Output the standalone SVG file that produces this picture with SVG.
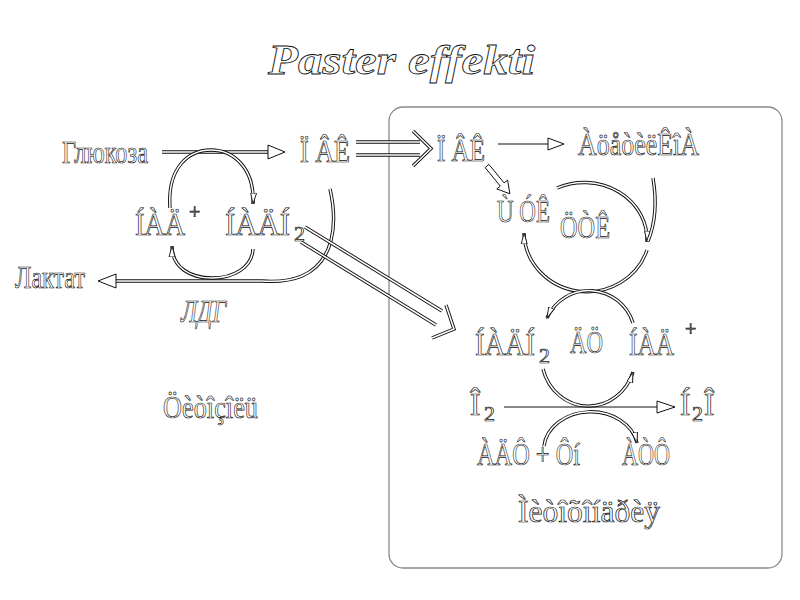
<svg xmlns="http://www.w3.org/2000/svg" width="800" height="600" viewBox="0 0 800 600">
<style>
text{font-family:"Liberation Serif","Times New Roman",serif;fill:#fff;stroke:#111;stroke-width:0.7}
.lbl{font-size:31px}
.sub{font-size:22px}
.sup{font-size:20px}
.it{font-style:italic}
.title{font-size:42px;font-weight:bold;font-style:italic;stroke-width:0.8}
.o{fill:none;stroke:#111;stroke-width:3.4}
.i{fill:none;stroke:#fff;stroke-width:1.5}
.ia{fill:none;stroke:#fff;stroke-width:1.5;marker-end:url(#ah)}
.thin{fill:none;stroke:#111;stroke-width:1.2}
.head{fill:#fff;stroke:#111;stroke-width:1}
.box{fill:#fff;stroke:#8a8a8a;stroke-width:1.3}
</style>
<defs>
<marker id="ah" markerUnits="userSpaceOnUse" markerWidth="14" markerHeight="10" refX="11" refY="4" orient="auto" viewBox="0 0 14 10"><path d="M0,1 L11,4 L0,7 Z" fill="#fff" stroke="#111" stroke-width="0.9"/></marker>
<path id="p-glc" d="M162,152 H269"/>
<path id="p-dbl1a" d="M356,142 H420"/>
<path id="p-dbl1b" d="M356,155 H420"/>
<path id="p-chev1" d="M413,131 L431,148.5 L413,166"/>
<path id="p-lact" d="M262,281 H116"/>
<path id="p-lactarc" d="M330,189 C338,224 334,262 302,276 C290,281 276,282 262,281"/>
<path id="p-lc-top" d="M170,208 C167,166 190,150 211,150 C233,150 255,168 253,204"/>
<path id="p-lc-bot" d="M253,249 C252,268 233,278 212,278 C191,278 172,268 172,246"/>
<path id="p-dbl2a" d="M305,227 L442,311"/>
<path id="p-dbl2b" d="M301,242 L436,325"/>
<path id="p-chev2" d="M446,305 L454,329 L432,338"/>
<path id="p-tca-up" d="M557,188 A63,57 0 0 1 647,242"/>
<path id="p-tca-in" d="M653,178 C657,202 655,224 648,241"/>
<path id="p-tca-low" d="M647,250 A63,60 0 0 1 524,233"/>
<path id="p-dc-top" d="M633,323 A46,46 0 0 0 547,318"/>
<path id="p-dc-bot" d="M543,369 A47,50 0 0 0 633,372"/>
<path id="p-atp" d="M544,446 A47,38 0 0 1 637,443"/>
</defs>

<g id="mitochondrion-box"><rect class="box" x="389" y="107" width="393" height="461" rx="14"/></g>

<g id="connectors">
<g id="c-glucose-pvk"><use href="#p-glc" class="o"/><use href="#p-glc" class="i"/><polygon class="head" points="268,145 285,152 268,159"/></g>
<g id="c-pvk-transport"><use href="#p-dbl1a" class="o"/><use href="#p-dbl1a" class="i"/><use href="#p-dbl1b" class="o"/><use href="#p-dbl1b" class="i"/><use href="#p-chev1" class="o"/><use href="#p-chev1" class="i"/></g>
<g id="c-pvk-acetyl"><path class="thin" d="M498,144 H549"/><polygon class="head" points="548,138 564,144 548,150"/></g>
<g id="c-pvk-shchuk"><polygon class="head" points="485.1,167.6 500.3,186.1 496.8,188.9 509.9,193.8 507.6,180.1 504.1,182.9 488.9,164.4"/></g>
<g id="c-lactate"><use href="#p-lact" class="o"/><use href="#p-lact" class="i"/><use href="#p-lactarc" class="o"/><use href="#p-lactarc" class="i"/><polygon class="head" points="116,274 98,281 116,288"/></g>
<g id="c-left-cycle"><use href="#p-lc-top" class="o"/><use href="#p-lc-top" class="ia"/><use href="#p-lc-bot" class="o"/><use href="#p-lc-bot" class="ia"/></g>
<g id="c-nadh-transport"><use href="#p-dbl2a" class="o"/><use href="#p-dbl2a" class="i"/><use href="#p-dbl2b" class="o"/><use href="#p-dbl2b" class="i"/><use href="#p-chev2" class="o"/><use href="#p-chev2" class="i"/></g>
<g id="c-tca"><use href="#p-tca-up" class="o"/><use href="#p-tca-up" class="ia"/><use href="#p-tca-in" class="o"/><use href="#p-tca-in" class="i"/><use href="#p-tca-low" class="o"/><use href="#p-tca-low" class="ia"/></g>
<g id="c-dc"><use href="#p-dc-top" class="o"/><use href="#p-dc-top" class="ia"/><use href="#p-dc-bot" class="o"/><use href="#p-dc-bot" class="ia"/></g>
<g id="c-o2-h2o"><path class="thin" d="M504,407 H658"/><polygon class="head" points="657,401 675,407 657,413"/></g>
<g id="c-atp"><use href="#p-atp" class="o"/><use href="#p-atp" class="ia"/></g>
</g>

<g id="title"><text class="title" x="268" y="74" textLength="267" lengthAdjust="spacingAndGlyphs">Paster effekti</text></g>
<g id="n-glucose"><text class="lbl" x="62" y="163" textLength="86" lengthAdjust="spacingAndGlyphs">Глюкоза</text></g>
<g id="n-lactate"><text class="lbl" x="15" y="288" textLength="70" lengthAdjust="spacingAndGlyphs">Лактат</text></g>
<g id="n-ldg"><text class="lbl it" x="181" y="322" font-size="26" textLength="45" lengthAdjust="spacingAndGlyphs">ЛДГ</text></g>
<g id="n-pvk1"><text class="lbl" x="300" y="162" textLength="50" lengthAdjust="spacingAndGlyphs">Ï ÂÊ</text></g>
<g id="n-nad1"><text class="lbl" x="135" y="235" textLength="50" lengthAdjust="spacingAndGlyphs">ÍÀÄ</text><text class="sup" x="189" y="219">+</text></g>
<g id="n-nadh1"><text class="lbl" x="225" y="235" textLength="65" lengthAdjust="spacingAndGlyphs">ÍÀÄÍ</text><text class="sub" x="294" y="241">2</text></g>
<g id="n-cytosol"><text class="lbl" x="163" y="418" font-size="28" textLength="95" lengthAdjust="spacingAndGlyphs">Öèòîçîëü</text></g>
<g id="n-pvk2"><text class="lbl" x="437" y="161" textLength="48" lengthAdjust="spacingAndGlyphs">Ï ÂÊ</text></g>
<g id="n-acetyl"><text class="lbl" x="578" y="155" textLength="121" lengthAdjust="spacingAndGlyphs">ÀöåòèëÊîÀ</text></g>
<g id="n-shchuk"><text class="lbl" x="497" y="222" textLength="53" lengthAdjust="spacingAndGlyphs">Ù ÓÊ</text></g>
<g id="n-tck"><text class="lbl" x="560" y="238" textLength="50" lengthAdjust="spacingAndGlyphs">ÖÒÊ</text></g>
<g id="n-nadh2"><text class="lbl" x="475" y="355" textLength="60" lengthAdjust="spacingAndGlyphs">ÍÀÄÍ</text><text class="sub" x="539" y="363">2</text></g>
<g id="n-dc"><text class="lbl" x="570" y="353" textLength="33" lengthAdjust="spacingAndGlyphs">ÄÖ</text></g>
<g id="n-nad2"><text class="lbl" x="629" y="355" textLength="45" lengthAdjust="spacingAndGlyphs">ÍÀÄ</text><text class="sup" x="685" y="336">+</text></g>
<g id="n-o2"><text class="lbl" x="470" y="415">Î</text><text class="sub" x="484" y="421">2</text></g>
<g id="n-h2o"><text class="lbl" x="680" y="415">Í</text><text class="sub" x="692" y="421">2</text><text class="lbl" x="704" y="415">Î</text></g>
<g id="n-adp"><text class="lbl" x="477" y="465" textLength="103" lengthAdjust="spacingAndGlyphs">ÀÄÔ + Ôí</text></g>
<g id="n-atp"><text class="lbl" x="622" y="465" textLength="48" lengthAdjust="spacingAndGlyphs">ÀÒÔ</text></g>
<g id="n-mito"><text class="lbl" x="518" y="522" font-size="28" textLength="142" lengthAdjust="spacingAndGlyphs">Ìèòîõîíäðèÿ</text></g>
</svg>
